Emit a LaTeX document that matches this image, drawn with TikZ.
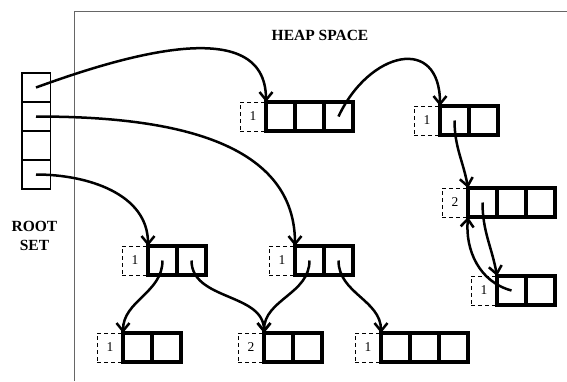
\documentclass[tikz,border=0pt]{standalone}
\usepackage{fontspec}
\setmainfont{Liberation Serif}
\usepackage{tikz}
\usetikzlibrary{arrows.meta}

\begin{document}
\begin{tikzpicture}[x=1pt, y=1pt,
    cell/.style={draw, line width=3.2pt, minimum width=29pt, minimum height=29pt, inner sep=0pt, outer sep=0pt},
    rootcell/.style={draw, line width=1.5pt, minimum width=28.5pt, minimum height=29pt, inner sep=0pt, outer sep=0pt},
    refcount/.style={draw, dash pattern=on 4pt off 3pt, line width=1pt, minimum width=26pt, minimum height=29pt, inner sep=0pt, outer sep=0pt, font=\fontsize{13.5}{15}\selectfont},
    ptr/.style={line width=2.5pt, -{Straight Barb[length=8pt,width=13pt]}},
    title/.style={font=\fontsize{15.5}{19}\selectfont\bfseries, align=center}]

    \useasboundingbox (0,0) rectangle (567,-381);
    \draw[black!60, line width=0.9pt] (74,-381) |- (567,-11);

    \node[title] (heap) at (320,-35.5) {HEAP SPACE};
    \node[title] (root) at (34.5,-235.5) {ROOT\\SET};

    % root set
    \foreach \r in {1,...,4}{
        \node[rootcell] (root-\r) at (36,{-87.5-29*(\r-1)}) {};
    }

    % heap objects: name/x/y/cells/count
    \foreach \obj/\px/\py/\n/\rc in {
        A/266/102/3/1, B/440/106/2/1, C/468/188/3/2, D/497/276/2/1,
        E/148/246/2/1, F/295/246/2/1, G/123/333/2/1, H/264/333/2/2, I/381/333/3/1
    }{
        \node[refcount, anchor=north east] (\obj-rc) at (\px,-\py) {\rc};
        \foreach \c in {1,...,\n}{
            \node[cell, anchor=north west] (\obj-\c) at ({\px+29*(\c-1)},-\py) {};
        }
    }

    \draw[ptr] (root-1.center) to[out=20, in=90] (A-1.north west);
    \draw[ptr] (root-2.center) to[out=0, in=90] (F-1.north west);
    \draw[ptr] (root-4.center) to[out=0, in=90] (E-1.north west);
    \draw[ptr] (A-3.center) to[out=65, in=90, looseness=1.8] (B-1.north west);
    \draw[ptr] (B-1.center) to[out=-90, in=100] (C-1.north west);
    \draw[ptr] (C-1.center) to[out=-90, in=100] (D-1.north west);
    \draw[ptr] (D-1.center) to[out=165, in=-95] (C-1.south west);
    \draw[ptr] (E-1.center) to[out=-90, in=90] (G-1.north west);
    \draw[ptr] (E-2.center) to[out=-90, in=90] (H-1.north west);
    \draw[ptr] (F-1.center) to[out=-90, in=90] (H-1.north west);
    \draw[ptr] (F-2.center) to[out=-90, in=90] (I-1.north west);

\end{tikzpicture}
\end{document}
